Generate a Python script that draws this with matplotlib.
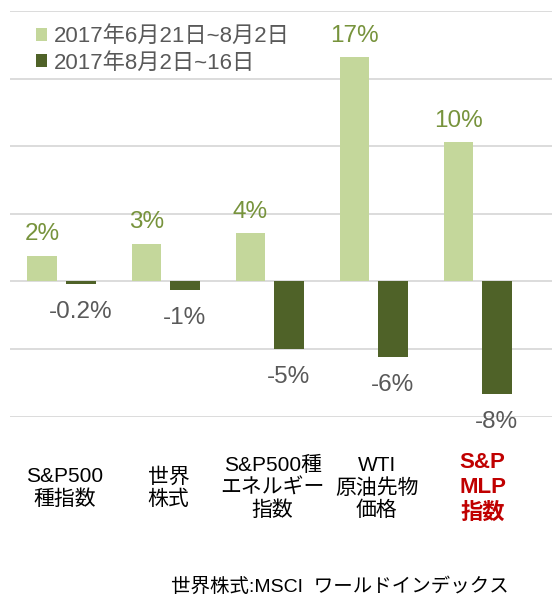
import matplotlib
matplotlib.use("Agg")
import matplotlib.pyplot as plt
import numpy as np

plt.rcParams['font.family'] = ['Liberation Sans', 'Noto Sans CJK JP', 'DejaVu Sans']

categories = ["S&P500\n種指数", "世界\n株式", "S&P500種\nエネルギー\n指数", "WTI\n原油先物\n価格", "S&P\nMLP\n指数"]
series_names = ["2017年6月21日~8月2日", "2017年8月2日~16日"]
period1 = [1.9, 2.8, 3.6, 16.6, 10.3]
period2 = [-0.2, -0.6, -5.0, -5.6, -8.3]
labels1 = ["2%", "3%", "4%", "17%", "10%"]
labels2 = ["-0.2%", "-1%", "-5%", "-6%", "-8%"]
footnote = "世界株式:MSCI  ワールドインデックス"

light = "#c4d79b"
dark = "#4f6228"

W, H = 552, 596
fig = plt.figure(figsize=(W / 100, H / 100), dpi=100)
ax = fig.add_axes([9.5 / W, (H - 416.7) / H, (W - 9.5) / W, 405.7 / H])

x = np.arange(len(categories))
off = 0.183
bw = 0.288
b1 = ax.bar(x - off, period1, bw, color=light, zorder=3, label=series_names[0])
b2 = ax.bar(x + off, period2, bw, color=dark, zorder=3, label=series_names[1])

ax.set_xlim(-0.5, 4.716)
ax.set_ylim(-10, 20)
ax.set_yticks(range(-10, 21, 5))
ax.yaxis.grid(True, color="#d9d9d9", lw=1.3, zorder=0)
ax.tick_params(left=False, bottom=False, labelleft=False, labelbottom=False)
for s in ax.spines.values():
    s.set_visible(False)

for xi, v, t in zip(x, period1, labels1):
    ax.annotate(t, (xi - off, v), xytext=(0, 11), textcoords="offset points",
                ha="center", va="baseline", fontsize=17.5, color="#77933c")
for xi, v, t in zip(x, period2, labels2):
    ax.annotate(t, (xi + off, v), xytext=(0, -24.5), textcoords="offset points",
                ha="center", va="baseline", fontsize=17.5, color="#595959",
                annotation_clip=False)

for i, c in enumerate(categories):
    if i == len(categories) - 1:
        ax.text(i + 0.05, -15.28, c, ha="center", va="center", fontsize=16, fontweight="bold",
                color="#c00000", linespacing=1.25, clip_on=False)
    else:
        ax.text(i + 0.03, -15.28, c, ha="center", va="center", fontsize=15, color="black",
                linespacing=1.2, clip_on=False)

leg = ax.legend(loc="upper left", bbox_to_anchor=(25 / W, 1 - 15 / H),
                bbox_transform=fig.transFigure, frameon=False, fontsize=16,
                handlelength=0.5, handleheight=0.5, handletextpad=0.3,
                labelspacing=0.25, borderpad=0, labelcolor="#595959")

fig.text(340 / W, 4 / H, footnote, ha="center", va="baseline", fontsize=14, color="black")

fig.savefig("out.png", dpi=100)
